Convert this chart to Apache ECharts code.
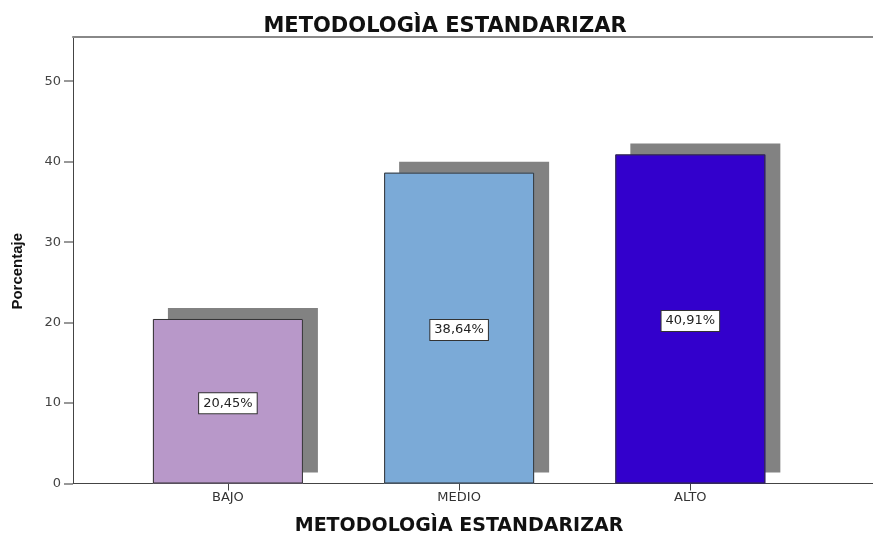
<!DOCTYPE html>
<html>
<head>
<meta charset="utf-8">
<script src="https://cdn.jsdelivr.net/npm/echarts@6/dist/echarts.min.js"></script>
<style>
  html, body { margin: 0; padding: 0; background: #fff; }
  #chart { width: 873px; height: 533px; }
</style>
</head>
<body>
<div id="chart"></div>
<script>
// Categories and percentages
const categories = ['BAJO', 'MEDIO', 'ALTO'];
const percentages = [20.45, 38.64, 40.91];
const yTicks = [0, 10, 20, 30, 40, 50];

// Fill colour for each bar
const barColors = ['#b898c9', '#7baad7', '#3300cc'];

const chart = echarts.init(document.getElementById('chart'), null, { renderer: 'canvas' });

const catIndex = categories.map((_, i) => i);
const fmtPct = v => v.toFixed(2).replace('.', ',') + '%';
const barData = percentages.map((v, i) => ({
  value: [catIndex[i], v],
  itemStyle: { color: barColors[i] }
}));

chart.setOption({
  animation: false,
  backgroundColor: '#ffffff',
  title: {
    text: 'METODOLOGÌA ESTANDARIZAR',
    left: 445,
    textAlign: 'center',
    top: 16,
    padding: 0,
    textStyle: {
      fontFamily: 'DejaVu Sans',
      fontWeight: 'bold',
      fontSize: 21,
      color: '#111'
    }
  },
  grid: { left: 73, right: 0, top: 37, bottom: 49.5, containLabel: false, outerBoundsMode: 'none' },
  xAxis: [
    {
      type: 'value',
      min: -0.67,
      max: 2.79,
      position: 'bottom',
      splitLine: { show: false },
      axisLine: { show: true, onZero: false, lineStyle: { color: '#444', width: 1 } },
      axisTick: {
        show: true,
        customValues: catIndex,
        length: 7,
        lineStyle: { color: '#444' }
      },
      axisLabel: {
        customValues: catIndex,
        formatter: v => categories[Math.round(v)],
        margin: 8,
        fontFamily: 'DejaVu Sans',
        fontSize: 13,
        color: '#333'
      },
      name: 'METODOLOGÌA ESTANDARIZAR',
      nameLocation: 'middle',
      nameGap: 33,
      nameTextStyle: {
        fontFamily: 'DejaVu Sans',
        fontWeight: 'bold',
        fontSize: 19,
        color: '#111',
        padding: [0, 28, 0, 0]
      }
    },
    {
      // frame line along the top of the plot
      type: 'value',
      min: -0.67,
      max: 2.79,
      position: 'top',
      splitLine: { show: false },
      axisLine: { show: true, onZero: false, lineStyle: { color: '#888', width: 2 } },
      axisTick: { show: false },
      axisLabel: { show: false }
    }
  ],
  yAxis: {
    type: 'value',
    min: 0,
    max: 55.5,
    splitLine: { show: false },
    axisLine: { show: true, onZero: false, lineStyle: { color: '#444', width: 1 } },
    axisTick: {
      show: true,
      customValues: yTicks,
      length: 9,
      lineStyle: { color: '#777', width: 1.5 }
    },
    axisLabel: {
      customValues: yTicks,
      margin: 12,
      fontFamily: 'DejaVu Sans',
      fontSize: 13,
      color: '#444'
    },
    name: 'Porcentaje',
    nameLocation: 'middle',
    nameGap: 48,
    nameRotate: 90,
    nameTextStyle: {
      fontFamily: 'Liberation Sans',
      fontWeight: 'bold',
      fontSize: 15,
      color: '#111',
      padding: [0, 22, 0, 0]
    }
  },
  series: [
    {
      // casts the grey drop shadow behind each bar
      type: 'bar',
      xAxisIndex: 0,
      barWidth: 150,
      silent: true,
      data: barData,
      itemStyle: {
        borderWidth: 0,
        shadowColor: '#828282',
        shadowBlur: 0,
        shadowOffsetX: 15,
        shadowOffsetY: -11
      }
    },
    {
      type: 'bar',
      xAxisIndex: 0,
      barWidth: 150,
      barGap: '-100%',
      data: barData,
      itemStyle: {
        borderColor: '#333',
        borderWidth: 1
      },
      label: {
        show: true,
        position: 'inside',
        offset: [0, 2],
        formatter: p => fmtPct(p.value[1]),
        fontFamily: 'DejaVu Sans',
        fontSize: 13,
        lineHeight: 14,
        color: '#222',
        backgroundColor: '#ffffff',
        borderColor: '#333',
        borderWidth: 1,
        padding: [3, 4, 3, 4]
      }
    }
  ]
});
</script>
</body>
</html>
